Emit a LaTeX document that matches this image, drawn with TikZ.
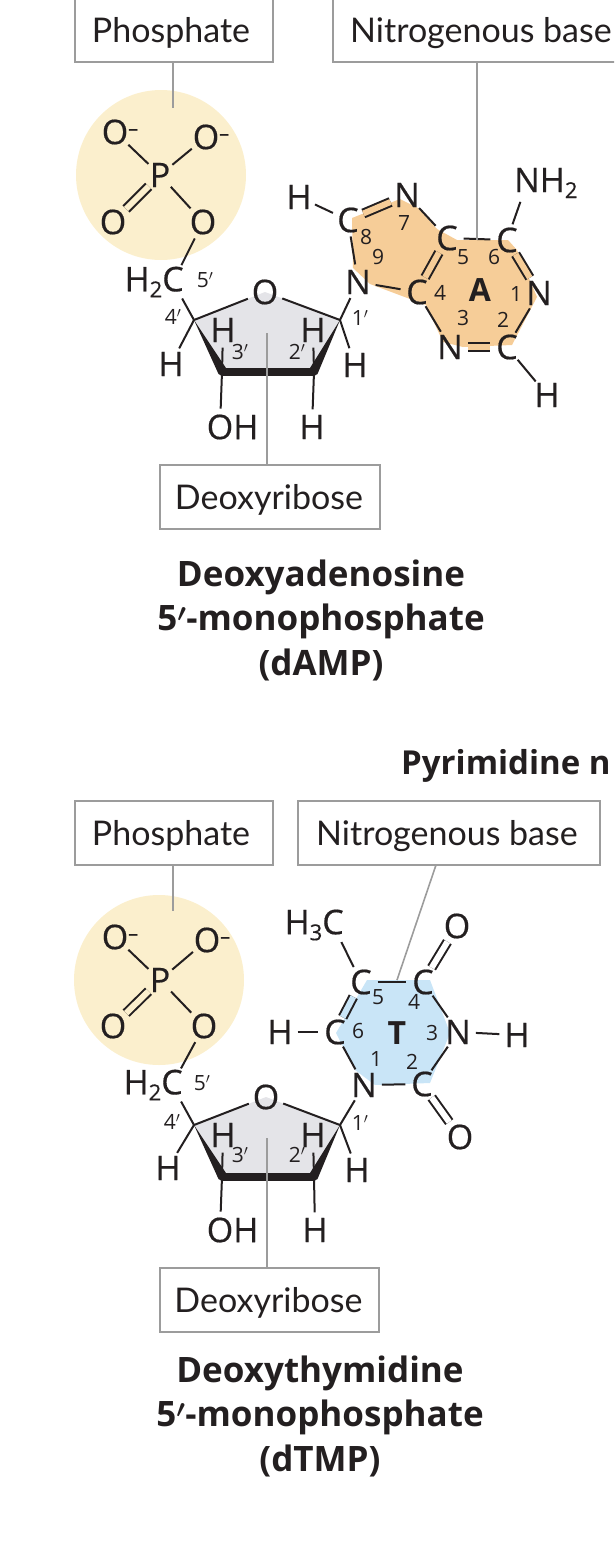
\documentclass[tikz,border=0pt]{standalone}
\usepackage{fontspec}
\setmainfont{Lato}
\newfontfamily\chemfont{Open Sans}
\newfontfamily\atomfont[FakeBold=0.5]{Open Sans}
\definecolor{ink}{HTML}{231F20}
\definecolor{leadgray}{HTML}{9C9C9C}
\definecolor{phoscol}{HTML}{FBEFCD}
\definecolor{sugarcol}{HTML}{E4E4E8}
\definecolor{purcol}{HTML}{F6CD98}
\definecolor{pyrcol}{HTML}{C9E5F7}
\newcommand{\heavyprime}{{\boldmath$'$}}
\tikzset{
	atom/.style={circle, inner sep=0pt, minimum size=27pt, text=ink, font=\atomfont\fontsize{34}{36}\selectfont},
	num/.style={inner sep=0pt, text=ink, font=\chemfont\fontsize{21}{22}\selectfont},
	base/.style={inner sep=0pt, text=ink, font=\chemfont\bfseries\fontsize{32}{36}\selectfont},
	bond/.style={draw=ink, line width=2pt},
	dbl/.style={bond, double=#1, double distance=6pt},
	dbl/.default=white,
	leader/.style={draw=leadgray, line width=1.6pt},
	labelbox/.style={draw=leadgray, line width=1.4pt, fill=white, inner sep=0pt, minimum height=64pt, text height=32pt, text depth=6.5pt, text=ink, font=\fontsize{34}{38}\selectfont},
	heading/.style={inner sep=0pt, align=center, text=ink, font=\chemfont\bfseries\fontsize{35}{44.5}\selectfont},
}
\begin{document}
\begin{tikzpicture}[x=1pt,y=-1pt]
	\useasboundingbox (0,0) rectangle (614,1542);
	\clip (0,0) rectangle (614,1542);

	% dAMP
	\fill[phoscol] (161,175) circle (85);
	\fill[sugarcol] (194,320) -- (265,292) -- (340,320) -- (314,372) -- (222,372) -- cycle;
	\fill[purcol] (352,218) -- (400,199) -- (418,208) -- (437,229) -- (457,240) -- (508,240) -- (517,250) -- (537,297) -- (512,345) -- (463,347) -- (443,342) -- (426,305) -- (370,284) -- (353,268) -- cycle;

	\node[labelbox, minimum width=198pt] (phos1) at (174,30) {Phosphate\kern6pt};
	\node[labelbox, minimum width=302pt] (nbase1) at (484,30) {Nitrogenous base\kern6pt};
	\node[labelbox, minimum width=220pt] (ribose1) at (270,497) {Deoxyribose\kern2pt};

	\node[atom] (ou1) at (115,132) {O\rlap{\raisebox{9pt}{\fontsize{20}{20}\selectfont –}}};
	\node[atom] (ou2) at (206,137) {O\rlap{\raisebox{9pt}{\fontsize{20}{20}\selectfont –}}};
	\node[atom] (p1) at (160,175) {P};
	\node[atom] (od1) at (113,222) {O};
	\node[atom] (oe1) at (203,222) {O};
	\node[atom] (ch1) at (173,282) {\llap{H\raisebox{-6pt}{\fontsize{22}{22}\selectfont 2}}C};
	\node[atom] (or1) at (265,292) {O};

	\coordinate (c4s1) at (194,320);
	\coordinate (c3s1) at (222,372);
	\coordinate (c2s1) at (314,372);
	\coordinate (c1s1) at (340,320);

	\node[atom] (h4a1) at (171,364) {H};
	\node[atom] (h3a1) at (223,330) {H};
	\node[atom] (h2a1) at (313,330) {H};
	\node[atom] (h1a1) at (355,365) {H};
	\node[atom] (oh1) at (220,427) {O\rlap{H}};
	\node[atom] (h2b1) at (312,427) {H};

	\node[atom] (c81) at (348,220) {C};
	\node[atom] (h81) at (299,197) {H};
	\node[atom] (n71) at (407,195) {N};
	\node[atom] (c51) at (447,238) {C};
	\node[atom] (c61) at (507,240) {C};
	\node[atom] (n11) at (539,293) {N};
	\node[atom] (c21) at (507,347) {C};
	\node[atom] (n31) at (450,347) {N};
	\node[atom] (c41) at (417,292) {C};
	\node[atom] (n91) at (358,282) {N};
	\node[atom] (nh1) at (527,183) {N\rlap{H\raisebox{-6pt}{\fontsize{22}{22}\selectfont 2}}};
	\node[atom] (h21) at (547,395) {H};
	\node[base] (aa) at (480,290) {A};

	\foreach \x/\y/\t in {366/237/8, 378/257/9, 404/223/7, 463/257/5, 494/257/6, 516/294/1, 503/320/2, 463/318/3, 440/293/4}
		\node[num] (a\t) at (\x,\y) {\t};
	\foreach \x/\y/\t in {205/280/5, 173/317/4, 240/352/3, 297/352/2, 360/318/1}
		\node[num] (pa\t) at (\x,\y) {\t$'$};

	\draw[bond] (ou1) -- (p1);
	\draw[bond] (ou2) -- (p1);
	\draw[dbl=phoscol] (od1) -- (p1);
	\draw[bond] (oe1) -- (p1);
	\draw[bond] (oe1) -- (ch1);
	\draw[bond] (ch1) -- (c4s1);
	\draw[bond] (c4s1) -- (or1);
	\draw[bond] (or1) -- (c1s1);
	\draw[bond] (c4s1) -- (h4a1);
	\draw[bond] (c3s1) -- (h3a1);
	\draw[bond] (c2s1) -- (h2a1);
	\draw[bond] (c1s1) -- (h1a1);
	\draw[bond] (c3s1) -- (oh1);
	\draw[bond] (c2s1) -- (h2b1);
	\draw[bond] (n91) -- (c1s1);
	\fill[ink] (c4s1) -- (226,368) -- (222,376) -- (218.5,374) -- cycle;
	\fill[ink] (c1s1) -- (310,368) -- (314,376) -- (317.5,374) -- cycle;
	\draw[ink, line width=8pt] (c3s1) -- (c2s1);

	\draw[bond] (h81) -- (c81);
	\draw[dbl=purcol] (c81) -- (n71);
	\draw[bond] (c81) -- (n91);
	\draw[bond] (n71) -- (c51);
	\draw[bond] (c51) -- (c61);
	\draw[dbl=purcol] (c51) -- (c41);
	\draw[bond] (n91) -- (c41);
	\draw[bond] (c41) -- (n31);
	\draw[dbl=purcol] (n31) -- (c21);
	\draw[bond] (c21) -- (n11);
	\draw[dbl=purcol] (n11) -- (c61);
	\draw[bond] (c61) -- (nh1);
	\draw[bond] (c21) -- (h21);

	\coordinate (phosend1) at (173,108);
	\coordinate (baseend1) at (477,240);
	\coordinate (riboend1) at (267,333);
	\draw[leader] (phosend1 |- phos1.south) -- (phosend1);
	\draw[leader] (baseend1 |- nbase1.south) -- (baseend1);
	\draw[leader] (riboend1 |- ribose1.north) -- (riboend1);

	\node[heading] (title1) at (321,620) {Deoxyadenosine\\5\heavyprime-monophosphate\\(dAMP)};
	\node[heading, anchor=west, font=\chemfont\bfseries\fontsize{33}{44.5}\selectfont] (pyr) at (401,766) {Pyrimidine n};

	% dTMP
	\fill[phoscol] (159,980) circle (85);
	\fill[sugarcol] (194,1125) -- (266,1097) -- (340,1125) -- (314,1177) -- (222,1177) -- cycle;
	\fill[pyrcol] (367,980) -- (430,980) -- (450,1033) -- (430,1083) -- (375,1085) -- (355,1070) -- (336,1033) -- cycle;

	\node[labelbox, minimum width=198pt] (phos2) at (174,833) {Phosphate\kern6pt};
	\node[labelbox, minimum width=302pt] (nbase2) at (449,833) {Nitrogenous base\kern4pt};
	\node[labelbox, minimum width=219pt] (ribose2) at (269.5,1300) {Deoxyribose\kern2pt};

	\node[atom] (ou3) at (115,937) {O\rlap{\raisebox{9pt}{\fontsize{20}{20}\selectfont –}}};
	\node[atom] (ou4) at (207,940) {O\rlap{\raisebox{9pt}{\fontsize{20}{20}\selectfont –}}};
	\node[atom] (p2) at (160,980) {P};
	\node[atom] (od2) at (113,1026) {O};
	\node[atom] (oe2) at (204,1026) {O};
	\node[atom] (ch2) at (172,1085) {\llap{H\raisebox{-6pt}{\fontsize{22}{22}\selectfont 2}}C};
	\node[atom] (or2) at (266,1097) {O};

	\coordinate (c4s2) at (194,1125);
	\coordinate (c3s2) at (222,1177);
	\coordinate (c2s2) at (314,1177);
	\coordinate (c1s2) at (340,1125);

	\node[atom] (h4a2) at (168,1168) {H};
	\node[atom] (h3a2) at (223,1135) {H};
	\node[atom] (h2a2) at (313,1135) {H};
	\node[atom] (h1a2) at (357,1170) {H};
	\node[atom] (oh2) at (220,1230) {O\rlap{H}};
	\node[atom] (h2b2) at (315,1230) {H};

	\node[atom] (c52) at (361,982) {C};
	\node[atom] (c42) at (423,982) {C};
	\node[atom] (n32) at (458,1032) {N};
	\node[atom] (c22) at (422,1084) {C};
	\node[atom] (n12) at (364,1085) {N};
	\node[atom] (c62) at (335,1032) {C};
	\node[atom] (ch32) at (333,925) {\llap{H\raisebox{-6pt}{\fontsize{22}{22}\selectfont 3}}C};
	\node[atom] (o42) at (457,926) {O};
	\node[atom] (h32) at (517,1035) {H};
	\node[atom] (o22) at (460,1137) {O};
	\node[atom] (h62) at (280,1032) {H};
	\node[base] (tt) at (397,1033) {T};

	\foreach \x/\y/\t in {378/997/5, 414/1002/4, 358/1031/6, 432/1033/3, 376/1059/1, 412/1062/2}
		\node[num] (b\t) at (\x,\y) {\t};
	\foreach \x/\y/\t in {202/1083/5, 172/1122/4, 240/1155/3, 297/1155/2, 360/1123/1}
		\node[num] (pb\t) at (\x,\y) {\t$'$};

	\draw[bond] (ou3) -- (p2);
	\draw[bond] (ou4) -- (p2);
	\draw[dbl=phoscol] (od2) -- (p2);
	\draw[bond] (oe2) -- (p2);
	\draw[bond] (oe2) -- (ch2);
	\draw[bond] (ch2) -- (c4s2);
	\draw[bond] (c4s2) -- (or2);
	\draw[bond] (or2) -- (c1s2);
	\draw[bond] (c4s2) -- (h4a2);
	\draw[bond] (c3s2) -- (h3a2);
	\draw[bond] (c2s2) -- (h2a2);
	\draw[bond] (c1s2) -- (h1a2);
	\draw[bond] (c3s2) -- (oh2);
	\draw[bond] (c2s2) -- (h2b2);
	\draw[bond] (n12) -- (c1s2);
	\fill[ink] (c4s2) -- (226,1173) -- (222,1181) -- (218.5,1179) -- cycle;
	\fill[ink] (c1s2) -- (310,1173) -- (314,1181) -- (317.5,1179) -- cycle;
	\draw[ink, line width=8pt] (c3s2) -- (c2s2);

	\draw[bond] (c52) -- (c42);
	\draw[bond] (c42) -- (n32);
	\draw[bond] (n32) -- (c22);
	\draw[bond] (c22) -- (n12);
	\draw[bond] (n12) -- (c62);
	\draw[dbl=pyrcol] (c62) -- (c52);
	\draw[bond] (ch32) -- (c52);
	\draw[dbl] (c42) -- (o42);
	\draw[bond] (n32) -- (h32);
	\draw[dbl] (c22) -- (o22);
	\draw[bond] (h62) -- (c62);

	\coordinate (phosend2) at (173,911);
	\coordinate (basetop2) at (436,865);
	\coordinate (baseend2) at (397,980);
	\coordinate (riboend2) at (267,1138);
	\draw[leader] (phosend2 |- phos2.south) -- (phosend2);
	\draw[leader] (basetop2) -- (baseend2);
	\draw[leader] (riboend2 |- ribose2.north) -- (riboend2);

	\node[heading] (title2) at (320,1416) {Deoxythymidine\\5\heavyprime-monophosphate\\(dTMP)};
\end{tikzpicture}
\end{document}
